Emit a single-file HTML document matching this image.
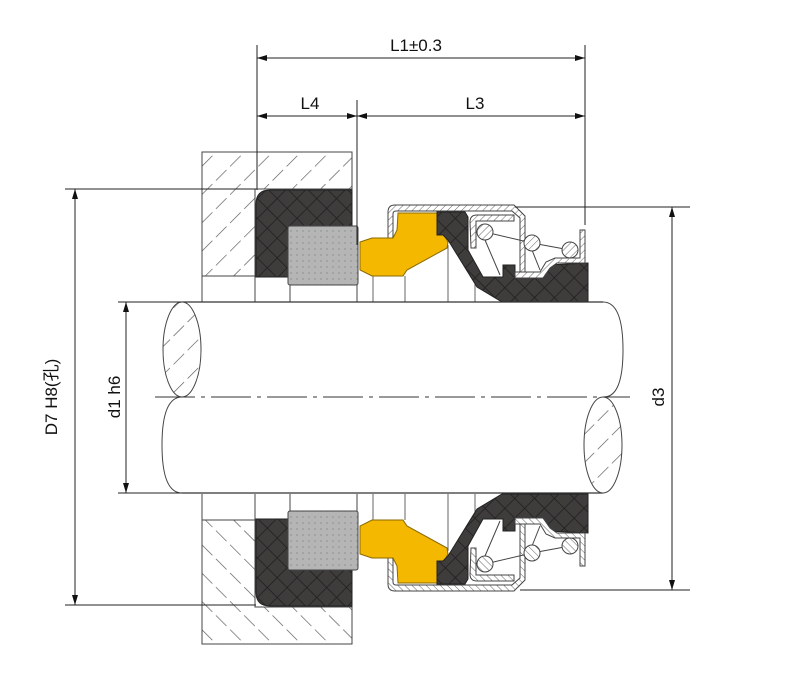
<!DOCTYPE html>
<html><head><meta charset="utf-8"><style>html,body{margin:0;padding:0;background:#fff}svg{display:block}</style></head>
<body>
<svg width="800" height="688" viewBox="0 0 800 688" xmlns="http://www.w3.org/2000/svg" font-family="Liberation Sans, Noto Sans CJK SC, sans-serif">
<defs>
<pattern id="hatch" patternUnits="userSpaceOnUse" width="20" height="20" patternTransform="rotate(45)">
<rect width="20" height="20" fill="#fff"/><line x1="0" y1="0" x2="0" y2="15" stroke="#555" stroke-width="1.3"/>
</pattern>
<pattern id="cross" patternUnits="userSpaceOnUse" width="14" height="14" patternTransform="rotate(45)">
<rect width="14" height="14" fill="#3f3c3c"/><path d="M0 0H14M0 0V14" stroke="#1f1d1d" stroke-width="1.5"/>
</pattern>
<pattern id="dots" patternUnits="userSpaceOnUse" width="6" height="6">
<rect width="6" height="6" fill="#b5b5b5"/><circle cx="3" cy="3" r="0.7" fill="#888"/>
</pattern>
<pattern id="shell" patternUnits="userSpaceOnUse" width="5" height="5" patternTransform="rotate(45)">
<rect width="5" height="5" fill="#fff"/><line x1="0" y1="0" x2="0" y2="5" stroke="#666" stroke-width="1"/>
</pattern>
<marker id="ar" viewBox="0 0 10 6" refX="10" refY="3" markerWidth="12" markerHeight="6" orient="auto-start-reverse" markerUnits="userSpaceOnUse"><path d="M0,0L10,3L0,6z" fill="#111"/></marker>
<g id="half">
  <path d="M202,152H352V189H255V276H202Z" fill="url(#hatch)" stroke="#444" stroke-width="1"/>
  <line x1="202" y1="276" x2="202" y2="302" stroke="#444"/>
  <line x1="255" y1="276" x2="255" y2="302" stroke="#444"/>
  <path d="M256,204Q256,190 270,190H352V277H256Z" fill="url(#cross)" stroke="#222"/>
  <rect x="288" y="226" width="70" height="59" rx="2" fill="url(#dots)" stroke="#444"/>
  <line x1="290" y1="285" x2="290" y2="302" stroke="#444"/>
  <line x1="357" y1="285" x2="357" y2="302" stroke="#444"/>
  <line x1="373" y1="272" x2="373" y2="302" stroke="#666"/>
  <line x1="405" y1="276" x2="405" y2="302" stroke="#666"/>
  <line x1="448" y1="245" x2="448" y2="302" stroke="#666"/>
  <line x1="475" y1="270" x2="475" y2="302" stroke="#666"/>
  <path d="M388,238V212Q388,205 395,205H514L525,216V278H520V218L512,211H396Q393,211 393,214V238Z" fill="url(#shell)" stroke="#444"/>
  <path d="M360,242L372,238H393L397,230L398,213H437V235H444L448,242L447,248L407,270L403,276H372L360,270Z" fill="#f5b800" stroke="#8a6a00"/>
  <path d="M437,212H465L468,217V250L483,277H503V265H515V278H543L548,265L588,263V302H502L477,287L448,240L443,235H437Z" fill="url(#cross)" stroke="#222"/>
  <path d="M470,222Q470,215 477,215H514V221H476V248H471Z" fill="url(#shell)" stroke="#444"/>
  <path d="M515,272H540L546,262L555,258H580V230H585V263H557L550,268L543,278H515Z" fill="url(#shell)" stroke="#444"/>
  <line x1="485" y1="232" x2="532" y2="243" stroke="#444"/>
  <line x1="532" y1="243" x2="570" y2="250" stroke="#444"/>
  <line x1="485" y1="240" x2="500" y2="275" stroke="#444"/>
  <line x1="532" y1="250" x2="540" y2="270" stroke="#444"/>
  <circle cx="485" cy="232" r="8" fill="url(#shell)" stroke="#444"/>
  <circle cx="532" cy="243" r="8" fill="url(#shell)" stroke="#444"/>
  <circle cx="570" cy="250" r="8" fill="url(#shell)" stroke="#444"/>
</g>
</defs>
<use href="#half"/>
<use href="#half" transform="translate(0,796) scale(1,-1)"/>
<line x1="182" y1="302" x2="603" y2="302" stroke="#333" stroke-width="1.2"/>
<line x1="182" y1="493" x2="603" y2="493" stroke="#333" stroke-width="1.2"/>
<ellipse cx="182" cy="349.5" rx="19" ry="47.5" fill="url(#hatch)" stroke="#444"/>
<path d="M182,397Q162,397 162,445T182,493" fill="none" stroke="#444"/>
<ellipse cx="603" cy="445" rx="19" ry="48" fill="url(#hatch)" stroke="#444"/>
<path d="M603,302Q623,302 623,350T603,397" fill="none" stroke="#444"/>
<line x1="155" y1="397" x2="630" y2="397" stroke="#333" stroke-dasharray="40,6,4,6"/>
<g stroke="#222" stroke-width="1" fill="none">
<line x1="257" y1="45" x2="257" y2="190"/>
<line x1="357" y1="100" x2="357" y2="245"/>
<line x1="585" y1="45" x2="585" y2="225"/>
<line x1="257" y1="58" x2="585" y2="58" marker-start="url(#ar)" marker-end="url(#ar)"/>
<line x1="257" y1="116" x2="357" y2="116" marker-start="url(#ar)" marker-end="url(#ar)"/>
<line x1="357" y1="116" x2="585" y2="116" marker-start="url(#ar)" marker-end="url(#ar)"/>
<line x1="65" y1="189" x2="256" y2="189"/>
<line x1="65" y1="605" x2="256" y2="605"/>
<line x1="75" y1="189" x2="75" y2="605" marker-start="url(#ar)" marker-end="url(#ar)"/>
<line x1="118" y1="302" x2="182" y2="302"/>
<line x1="118" y1="493" x2="182" y2="493"/>
<line x1="126" y1="302" x2="126" y2="493" marker-start="url(#ar)" marker-end="url(#ar)"/>
<line x1="515" y1="207" x2="690" y2="207"/>
<line x1="520" y1="590" x2="690" y2="590"/>
<line x1="672" y1="207" x2="672" y2="590" marker-start="url(#ar)" marker-end="url(#ar)"/>
</g>
<g font-size="17" fill="#111" text-anchor="middle">
<text x="416" y="51">L1±0.3</text>
<text x="310" y="109">L4</text>
<text x="475" y="109">L3</text>
<text transform="translate(57,397) rotate(-90)">D7  H8(孔)</text>
<text transform="translate(120,397) rotate(-90)">d1 h6</text>
<text transform="translate(664,397) rotate(-90)">d3</text>
</g>
</svg>
</body></html>
